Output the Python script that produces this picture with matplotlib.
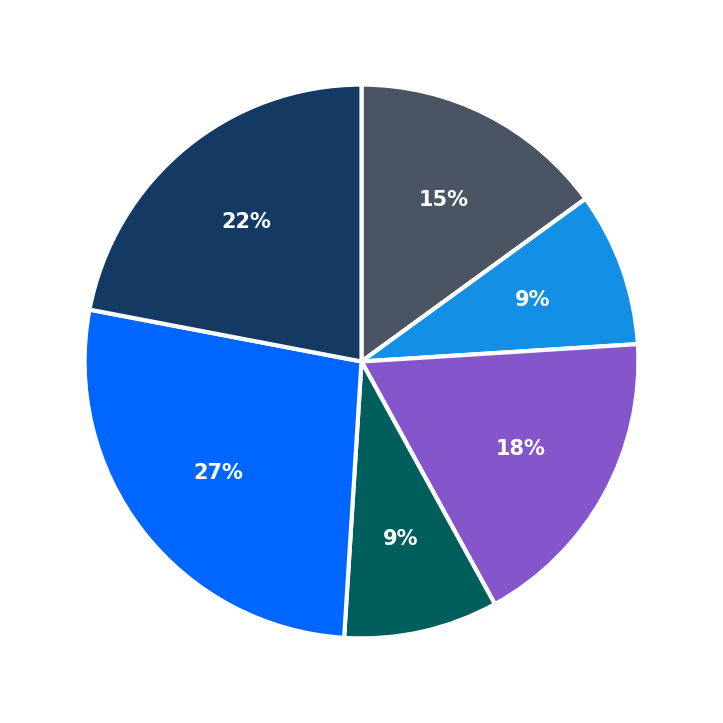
import matplotlib
matplotlib.use('Agg')
import matplotlib.pyplot as plt

shares = [15, 9, 18, 9, 27, 22]
colors = ['#4a5462', '#1390e6', '#8555cc', '#005e5d', '#0066ff', '#143a63']

fig = plt.figure(figsize=(7.23, 7.23), dpi=100)
ax = fig.add_axes([0.5 - 0.383, 0.5 - 0.383, 0.766, 0.766])
wedges, texts, autotexts = ax.pie(
    shares, colors=colors, startangle=90, counterclock=False,
    autopct='%d%%', pctdistance=0.655, radius=1,
    wedgeprops=dict(edgecolor='white', linewidth=3),
)
for t in autotexts:
    t.set_color('white')
    t.set_fontsize(15)
    t.set_fontweight('bold')
ax.set_xlim(-1, 1)
ax.set_ylim(-1, 1)
ax.set_aspect('equal')
fig.savefig('out.png', dpi=100, facecolor='white')
